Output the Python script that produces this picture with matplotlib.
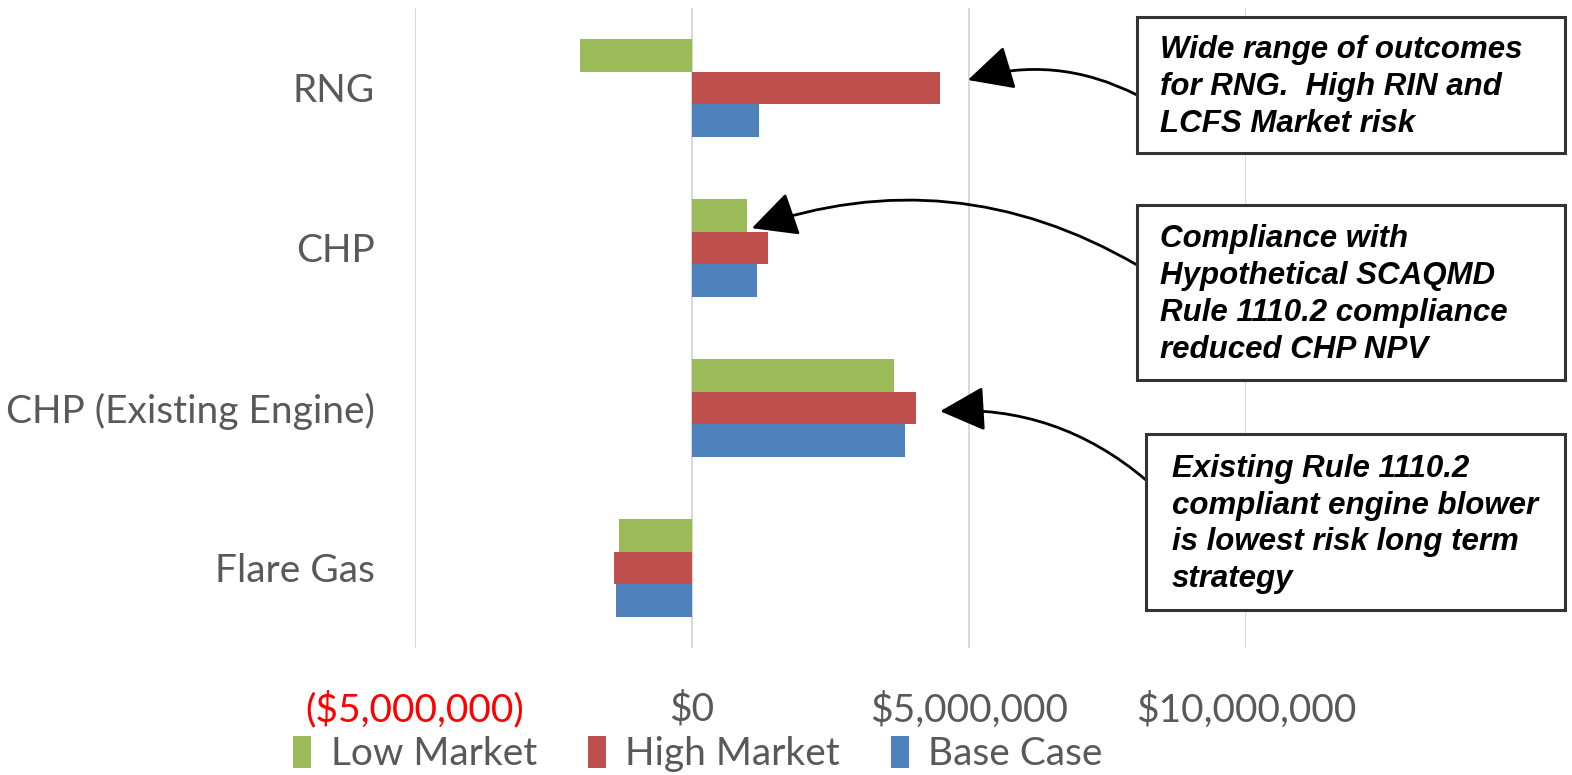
import numpy as np
import matplotlib
matplotlib.use('Agg')
import matplotlib.pyplot as plt
from matplotlib.patches import Rectangle

categories = ['RNG', 'CHP', 'CHP (Existing Engine)', 'Flare Gas']
low_market = [-2020000, 1000000, 3650000, -1320000]
high_market = [4480000, 1370000, 4050000, -1410000]
base_case = [1210000, 1170000, 3850000, -1370000]
series_names = ['Low Market', 'High Market', 'Base Case']
tick_values = [-5000000, 0, 5000000, 10000000]
tick_labels = ['($5,000,000)', '$0', '$5,000,000', '$10,000,000']

notes = ['Wide range of outcomes\nfor RNG.  High RIN and\nLCFS Market risk',
         'Compliance with\nHypothetical SCAQMD\nRule 1110.2 compliance\nreduced CHP NPV',
         'Existing Rule 1110.2\ncompliant engine blower\nis lowest risk long term\nstrategy']

green = '#9BBB59'
red = '#C0504D'
blue = '#4F81BD'
gray = '#595959'

W, H = 1572, 775
fig = plt.figure(figsize=(W / 100, H / 100), dpi=100)

def fx(px):
    return px / W

def fy(py):
    return 1 - py / H

ax = fig.add_axes([fx(415), fy(648), fx(1246) - fx(415), (648 - 8) / H])

y = np.arange(len(categories))
h = 0.206
ax.barh(y - h, low_market, height=h, color=green, label=series_names[0])
ax.barh(y, high_market, height=h, color=red, label=series_names[1])
ax.barh(y + h, base_case, height=h, color=blue, label=series_names[2])

ax.set_xlim(-5000000, 10000000)
ax.set_ylim(3.5, -0.5)
ax.set_xticks(tick_values)
ax.set_xticklabels(tick_labels)
ax.set_yticks(y)
ax.set_yticklabels(categories)
ax.grid(axis='x', color='#D9D9D9', linewidth=1.5)
ax.set_axisbelow(True)
for s in ax.spines.values():
    s.set_visible(False)
ax.tick_params(length=0)
ax.tick_params(axis='y', pad=29, labelsize=28, labelcolor=gray)
ax.tick_params(axis='x', pad=31, labelsize=28, labelcolor=gray)
for lab in ax.get_yticklabels() + ax.get_xticklabels():
    lab.set_family('Lato')
ax.get_xticklabels()[0].set_color('red')

leg = fig.legend(loc='center', bbox_to_anchor=(fx(698), fy(754)), ncol=3,
                 frameon=False, prop={'family': 'Lato', 'size': 28},
                 handlelength=0.47, handleheight=0.9, handletextpad=0.5,
                 columnspacing=1.3)
for t in leg.get_texts():
    t.set_color(gray)

# annotation boxes (pixel rectangles: x0, y0, x1, y1)
boxes = [(1137, 17, 1565, 153), (1137, 205, 1565, 380), (1146, 434, 1565, 610)]
text_left = [1160, 1160, 1172]
for (x0, y0, x1, y1), tl, note in zip(boxes, text_left, notes):
    fig.patches.append(Rectangle((fx(x0), fy(y1)), fx(x1 - x0), (y1 - y0) / H,
                                 transform=fig.transFigure, fill=True,
                                 facecolor='white', edgecolor='#333333',
                                 linewidth=2.2, zorder=5))
    fig.text(fx(tl), fy((y0 + y1) / 2 + 2), note, ha='left', va='center',
             family='Liberation Sans', fontweight='bold', fontstyle='italic',
             fontsize=22.5, linespacing=1.3, zorder=6)

# arrows: tip just past the pointed bar, tail on box edge
tips = [(high_market[0] + 500000, 0 - 0.05), (low_market[1] + 80000, 1 - h * 0.6),
        (high_market[2] + 430000, 2 + 0.02)]
tails = [(1137, 95), (1137, 265), (1146, 480)]
rads = [0.2, 0.23, 0.2]
for tip, tail, rad in zip(tips, tails, rads):
    ax.annotate('', xy=tip, xycoords='data',
                xytext=(fx(tail[0]), fy(tail[1])), textcoords='figure fraction',
                arrowprops=dict(arrowstyle='-|>,head_length=0.7,head_width=0.35',
                                mutation_scale=40, color='black', lw=2.0,
                                shrinkA=0, shrinkB=0,
                                connectionstyle='arc3,rad=%s' % rad),
                annotation_clip=False, zorder=4)

fig.savefig('out.png', dpi=100)
